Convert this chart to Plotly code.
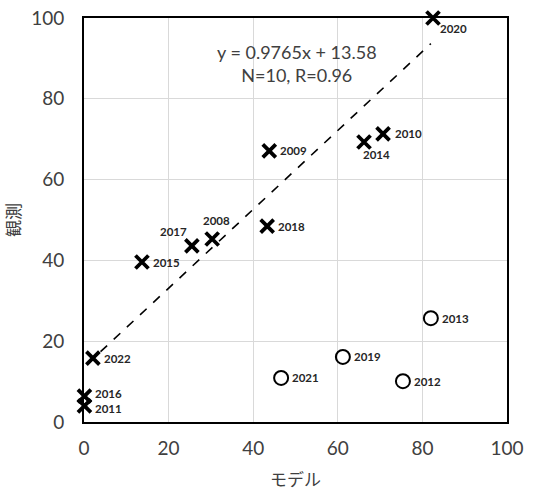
import plotly.graph_objects as go

# Cross markers (used in regression)
years_x = ["2020", "2010", "2014", "2009", "2018", "2008", "2017", "2015", "2022", "2016", "2011"]
model_x = [82.5, 70.7, 66.2, 43.8, 43.3, 30.3, 25.5, 13.7, 2.1, 0.1, 0.1]
obs_x = [100.0, 71.3, 69.3, 67.1, 48.5, 45.3, 43.6, 39.6, 15.8, 6.4, 4.0]

# Circle markers (excluded)
years_o = ["2013", "2019", "2021", "2012"]
model_o = [82.0, 61.2, 46.6, 75.4]
obs_o = [25.7, 16.1, 10.9, 10.1]

# label placement: (xanchor, xshift px, yshift px)
label_place_x = [("left", 6, -10), ("left", 11, 0), ("left", -2, -12), ("left", 10, 0), ("left", 10, 0),
                 ("center", 4, 18), ("right", -4, 14), ("left", 10, 0), ("left", 10, 0),
                 ("left", 10, 3), ("left", 10, -3)]

slope = 0.9765
intercept = 13.58
fit_x = [0.8, 82.0]
fit_y = [slope * v + intercept for v in fit_x]

ticks = [0, 20, 40, 60, 80, 100]

font_main = "Lato, 'Noto Sans CJK JP', sans-serif"
grey = "#404040"
lab_font = dict(family=font_main, size=11.5, color="#262626", weight="bold")

fig = go.Figure()
fig.add_trace(go.Scatter(x=fit_x, y=fit_y, mode="lines",
                         line=dict(color="black", width=1.6, dash="dash"),
                         hoverinfo="skip", showlegend=False))
fig.add_trace(go.Scatter(x=model_x, y=obs_x, mode="markers", cliponaxis=False,
                         marker=dict(symbol="x-thin", size=13, line=dict(color="black", width=3.8)),
                         showlegend=False))
fig.add_trace(go.Scatter(x=model_o, y=obs_o, mode="markers", cliponaxis=False,
                         marker=dict(symbol="circle-open", size=14, color="black", line=dict(color="black", width=2)),
                         showlegend=False))

for yr, xv, yv, (anc, dx, dy) in zip(years_x, model_x, obs_x, label_place_x):
    fig.add_annotation(x=xv, y=yv, text=yr, showarrow=False, xanchor=anc, yanchor="middle",
                       xshift=dx, yshift=dy, font=lab_font, borderpad=0)
for yr, xv, yv in zip(years_o, model_o, obs_o):
    fig.add_annotation(x=xv, y=yv, text=yr, showarrow=False, xanchor="left", yanchor="middle",
                       xshift=10, yshift=0, font=lab_font, borderpad=0)

fig.add_annotation(x=50.4, y=88.8, xref="x", yref="y",
                   text="y = 0.9765x + 13.58<br>N=10, R=0.96", showarrow=False,
                   font=dict(family=font_main, size=18, color=grey), align="center")

axis_common = dict(range=[0, 100], tickvals=ticks, showgrid=True, gridcolor="#d9d9d9", gridwidth=1,
                   showline=True, linecolor="black", linewidth=2, mirror=True, zeroline=False,
                   automargin=False,
                   tickfont=dict(family=font_main, size=19, color=grey), ticks="")
fig.update_layout(
    width=533, height=491, margin=dict(l=84, r=26, t=18, b=69, autoexpand=False),
    plot_bgcolor="white", paper_bgcolor="white",
    xaxis=dict(**axis_common, ticklabelstandoff=8,
               title=dict(text="モデル", font=dict(family="'Noto Sans CJK JP'", size=17, color=grey), standoff=16)),
    yaxis=dict(**axis_common, ticklabelstandoff=14,
               title=dict(text="観測", font=dict(family="'Noto Sans CJK JP'", size=17, color=grey), standoff=8)),
)
fig.write_html("out.html")
